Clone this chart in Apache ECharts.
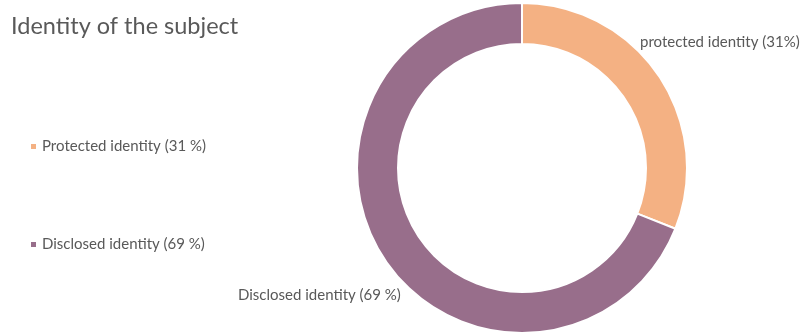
<!DOCTYPE html>
<html>
<head>
<meta charset="utf-8">
<script src="https://cdn.jsdelivr.net/npm/echarts@6/dist/echarts.min.js"></script>
<style>
  html, body { margin: 0; padding: 0; background: #fff; }
  #chart { width: 805px; height: 333px; }
</style>
</head>
<body>
<div id="chart"></div>
<script>
const categories = ['Protected identity', 'Disclosed identity'];
const values = [31, 69];
const legendLabels = ['Protected identity (31 %)', 'Disclosed identity (69 %)'];
const sliceLabels = ['protected identity (31%)', 'Disclosed identity (69 %)'];
const colors = ['#f4b183', '#986e8b'];

const chart = echarts.init(document.getElementById('chart'));

const labelPos = [
  { x: 640, y: 42, align: 'left' },
  { x: 238, y: 295, align: 'left' },
];

const option = {
  animation: false,
  color: colors,
  title: {
    text: 'Identity of the subject',
    left: 6,
    top: 9,
    textStyle: { fontFamily: 'Lato', fontSize: 23.5, fontWeight: 'normal', color: '#595959' },
  },
  legend: {
    orient: 'vertical',
    left: 24,
    top: 134,
    itemGap: 83,
    itemWidth: 7,
    itemHeight: 7,
    icon: 'rect',
    textStyle: { fontFamily: 'Lato', fontSize: 15, color: '#595959' },
    formatter: (name) => legendLabels[categories.indexOf(name)],
  },
  series: [
    {
      type: 'pie',
      center: [522, 168],
      radius: [124, 165],
      startAngle: 90,
      clockwise: true,
      itemStyle: { borderColor: '#fff', borderWidth: 2 },
      label: {
        show: true,
        position: 'outside',
        fontFamily: 'Lato',
        fontSize: 15,
        color: '#595959',
        overflow: 'none',
        formatter: (p) => sliceLabels[p.dataIndex],
      },
      labelLine: { show: false },
      labelLayout: (params) => ({
        x: labelPos[params.dataIndex].x,
        y: labelPos[params.dataIndex].y,
        align: labelPos[params.dataIndex].align,
        verticalAlign: 'middle',
        width: 200,
      }),
      data: categories.map((name, i) => ({ name, value: values[i] })),
    },
  ],
};

chart.setOption(option);
</script>
</body>
</html>
